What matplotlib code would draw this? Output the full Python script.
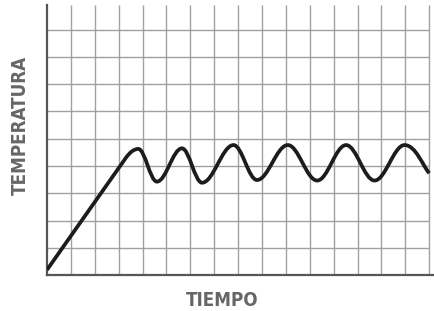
import matplotlib
matplotlib.use("Agg")
import matplotlib.pyplot as plt
from matplotlib.path import Path
from matplotlib.patches import PathPatch

# ramp: straight rise from the origin
ramp_x = [0.0, 3.3]
ramp_y = [0.2, 4.3]

# turning points of the oscillation (peaks and troughs), then the end point
turn_x = [3.82, 4.60, 5.65, 6.49, 7.81, 8.79, 10.08, 11.31, 12.52, 13.71, 14.97]
turn_y = [4.63, 3.43, 4.65, 3.39, 4.77, 3.49, 4.77, 3.47, 4.77, 3.47, 4.77]
end_x, end_y = 16.0, 3.74

n_cols = 16
n_rows = 10

fig = plt.figure(figsize=(4.34, 3.11), dpi=100)
ax = fig.add_axes([0.1083, 0.1148, 0.8917, 0.8692])
ax.set_xlim(0, 16.2)
ax.set_ylim(0, 9.9)

grid_c = "#a0a0a0"
ax.vlines(range(1, n_cols + 1), 0, 9.9, color=grid_c, lw=1.0, zorder=1)
ax.hlines(range(1, n_rows), 0, n_cols, color=grid_c, lw=1.0, zorder=1)

for s in ["top", "right"]:
    ax.spines[s].set_visible(False)
for s in ["left", "bottom"]:
    ax.spines[s].set_color("#555555")
    ax.spines[s].set_linewidth(1.6)
ax.set_xticks([])
ax.set_yticks([])

# build the curve: line, rounded corner into first peak, then S-shaped cubic segments
verts = [(ramp_x[0], ramp_y[0]), (ramp_x[1], ramp_y[1])]
codes = [Path.MOVETO, Path.LINETO]
slope = (ramp_y[1] - ramp_y[0]) / (ramp_x[1] - ramp_x[0])
cx = ramp_x[1] + (turn_y[0] - ramp_y[1]) / slope
verts += [(cx, turn_y[0]), (turn_x[0], turn_y[0])]
codes += [Path.CURVE3, Path.CURVE3]
k = 0.3642
pts = list(zip(turn_x, turn_y))
for (x0, y0), (x1, y1) in zip(pts[:-1], pts[1:]):
    dx = x1 - x0
    verts += [(x0 + k * dx, y0), (x1 - k * dx, y1), (x1, y1)]
    codes += [Path.CURVE4] * 3
# last stretch: half a swing cut off at the right edge
x0, y0 = pts[-1]
dx = end_x - x0
verts += [(x0 + 0.45 * dx, y0), (end_x - 0.25 * dx, end_y + 0.25), (end_x, end_y)]
codes += [Path.CURVE4] * 3

curve = PathPatch(Path(verts, codes), facecolor="none", edgecolor="#1c1c1c",
                  lw=2.7, capstyle="butt", joinstyle="round", zorder=3)
ax.add_patch(curve)

label_font = dict(family="DejaVu Sans", fontstretch="condensed", fontweight="bold",
                  color="#666666", fontsize=13.5)
fig.text(20.5 / 434, 1 - 125.5 / 311, "TEMPERATURA", rotation=90,
         ha="center", va="center", **label_font)
fig.text(222 / 434, 1 - 300.5 / 311, "TIEMPO", ha="center", va="center", **label_font)

fig.savefig("out.png", dpi=100)
